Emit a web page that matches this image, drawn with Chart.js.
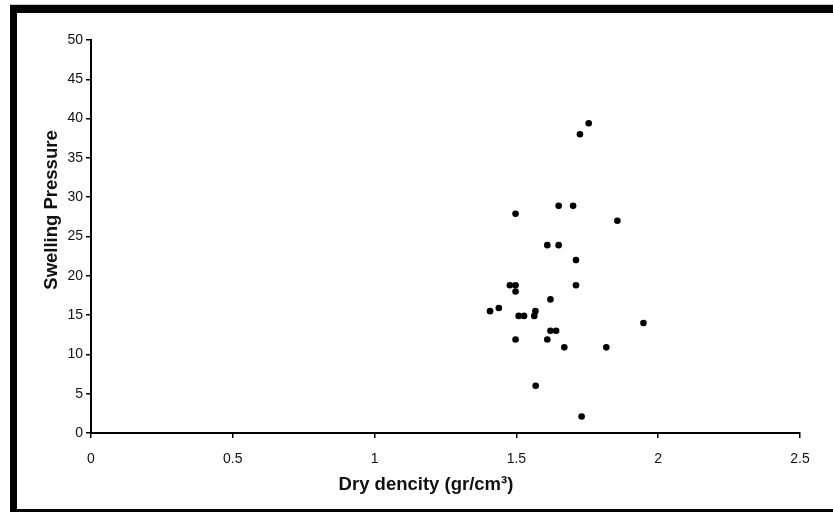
<!DOCTYPE html>
<html>
<head>
<meta charset="utf-8">
<script src="https://cdn.jsdelivr.net/npm/chart.js@4.4.1/dist/chart.umd.min.js"></script>
<style>
  body { margin: 0; background: #fff; }
  #wrap { position: relative; width: 833px; height: 512px; overflow: hidden; }
  #frame {
    position: absolute; left: 10px; top: 5px; width: 900px; height: 507px;
    box-sizing: border-box;
    border-left: 7px solid #000; border-top: 8px solid #000; border-bottom: 3px solid #000;
    box-shadow: 0 -1px 0 #ccc;
    pointer-events: none;
  }
</style>
</head>
<body>
<div id="wrap">
  <canvas id="chart" width="833" height="512"></canvas>
  <div id="frame"></div>
</div>
<script>
// dry density (gr/cm3) vs swelling pressure
const dryDensity = [1.755, 1.724, 1.649, 1.700, 1.497, 1.856, 1.609, 1.649, 1.710,
  1.477, 1.497, 1.497, 1.710, 1.620, 1.407, 1.438, 1.508, 1.527, 1.563, 1.567,
  1.620, 1.640, 1.497, 1.609, 1.669, 1.817, 1.948, 1.568, 1.730];
const swellingPressure = [39.4, 38.0, 28.9, 28.9, 27.9, 27.0, 23.9, 23.9, 22.0,
  18.8, 18.8, 18.0, 18.8, 17.0, 15.5, 15.9, 14.9, 14.9, 14.9, 15.5,
  13.0, 13.0, 11.9, 11.9, 10.9, 10.9, 14.0, 6.0, 2.1];

const xTitle = 'Dry dencity (gr/cm\u00B3)';
const yTitle = 'Swelling Pressure';

const points = dryDensity.map((x, i) => ({ x: x, y: swellingPressure[i] }));

// axis titles drawn by hand so they sit where the original has them
const axisTitles = {
  id: 'axisTitles',
  afterDraw(chart) {
    let ctx = chart.ctx;
    ctx.save();
    ctx.fillStyle = '#111';
    ctx.textAlign = 'center';
    ctx.textBaseline = 'middle';
    ctx.font = 'bold 18.5px "Liberation Sans", Arial, sans-serif';
    ctx.fillText(xTitle, 426, 485);
    ctx.font = 'bold 18.5px "Liberation Sans", Arial, sans-serif';
    ctx.translate(52, 210);
    ctx.rotate(-Math.PI / 2);
    ctx.fillText(yTitle, 0, 0);
    ctx.restore();
  }
};

new Chart(document.getElementById('chart'), {
  type: 'scatter',
  data: {
    datasets: [{
      data: points,
      backgroundColor: '#000',
      borderColor: '#000',
      borderWidth: 0,
      pointRadius: 3.3,
      pointStyle: 'circle'
    }]
  },
  options: {
    responsive: false,
    animation: false,
    devicePixelRatio: 1,
    layout: { padding: { top: 40, right: 33, left: 0, bottom: 0 } },
    plugins: { legend: { display: false }, tooltip: { enabled: false } },
    scales: {
      x: {
        type: 'linear', min: 0, max: 2.5,
        afterFit: s => { s.height = 79; },
        border: { display: true, color: '#000', width: 2 },
        grid: { drawOnChartArea: false, drawTicks: true, tickLength: 5, color: '#000', lineWidth: 1.5 },
        ticks: {
          stepSize: 0.5, padding: 13, color: '#111',
          font: { family: '"Liberation Sans", Arial, sans-serif', size: 14 },
          callback: v => String(v)
        }
      },
      y: {
        type: 'linear', min: 0, max: 50,
        afterFit: s => { s.width = 91; },
        border: { display: true, color: '#000', width: 2 },
        grid: { drawOnChartArea: false, drawTicks: true, tickLength: 5, color: '#000', lineWidth: 1.5 },
        ticks: { stepSize: 5, padding: 3, color: '#111', font: { family: '"Liberation Sans", Arial, sans-serif', size: 14 } }
      }
    }
  },
  plugins: [axisTitles]
});
</script>
</body>
</html>
